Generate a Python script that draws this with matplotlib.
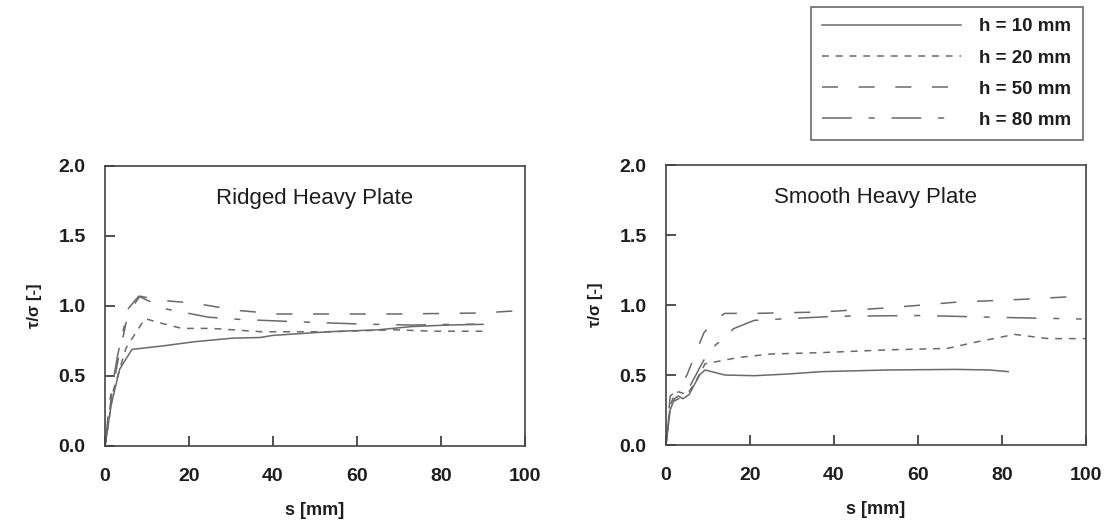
import matplotlib
matplotlib.use("Agg")
import matplotlib.pyplot as plt
from matplotlib.lines import Line2D

# Ridged heavy plate, s [mm] vs tau/sigma [-]
ridged_h10_s = [0, 1.5, 3.5, 6.4, 13.5, 21.4, 30.2, 36.9, 40, 53.2, 65, 73, 81.7, 90]
ridged_h10_y = [0, 0.3, 0.55, 0.69, 0.714, 0.745, 0.77, 0.775, 0.79, 0.816, 0.83, 0.853, 0.864, 0.869]

ridged_h20_s = [0, 2, 5, 9.5, 13.5, 18.3, 25.4, 37.3, 53, 68.8, 78, 90]
ridged_h20_y = [0, 0.4, 0.7, 0.91, 0.876, 0.84, 0.84, 0.816, 0.816, 0.83, 0.82, 0.82]

ridged_h50_s = [0, 1.5, 3, 5.5, 8.3, 13.5, 21.4, 31, 41, 55, 70, 89.8, 98, 100]
ridged_h50_y = [0, 0.35, 0.6, 0.95, 1.07, 1.04, 1.02, 0.97, 0.943, 0.943, 0.943, 0.95, 0.966, 0.968]

ridged_h80_s = [0, 1, 3, 5.5, 8, 14.3, 24.6, 31.7, 45, 61, 73, 83, 88]
ridged_h80_y = [0, 0.3, 0.65, 0.98, 1.07, 0.98, 0.92, 0.905, 0.888, 0.871, 0.864, 0.869, 0.87]

# Smooth heavy plate
smooth_h10_s = [0, 1, 2, 3, 4, 5.5, 8, 9.3, 14, 21, 29, 37, 53, 69, 77, 81.5]
smooth_h10_y = [0, 0.25, 0.33, 0.35, 0.33, 0.36, 0.5, 0.536, 0.5, 0.495, 0.507, 0.524, 0.536, 0.54, 0.536, 0.524]

smooth_h20_s = [0, 1, 2, 3, 5, 7, 9.3, 17.2, 25, 37, 53, 67, 73, 83, 91, 100]
smooth_h20_y = [0, 0.28, 0.36, 0.38, 0.36, 0.45, 0.58, 0.625, 0.65, 0.66, 0.68, 0.69, 0.73, 0.79, 0.76, 0.76]

smooth_h50_s = [0, 1, 3, 5, 7, 9, 12, 14, 21, 37, 53, 69, 84.5, 100]
smooth_h50_y = [0, 0.35, 0.4, 0.5, 0.65, 0.8, 0.9, 0.94, 0.94, 0.95, 0.98, 1.02, 1.04, 1.065]

smooth_h80_s = [0, 1, 3, 5, 8, 10, 12, 14.4, 16, 21, 27.3, 41, 61, 77, 99]
smooth_h80_y = [0, 0.3, 0.33, 0.38, 0.55, 0.66, 0.72, 0.77, 0.83, 0.89, 0.9, 0.92, 0.925, 0.913, 0.9]

LABELS = ["h = 10 mm", "h = 20 mm", "h = 50 mm", "h = 80 mm"]
STYLES = ["-", (0, (4.5, 4.5)), (0, (10.5, 13.5)), (0, (19.5, 11, 4, 11))]
LINE_COLOR = "#6a6a6a"
TEXT_COLOR = "#1e1e1e"

plt.rcParams["font.family"] = ["Liberation Sans", "DejaVu Sans"]

fig = plt.figure(figsize=(11.07, 5.22), dpi=100)
ax_left = fig.add_axes([0.0949, 0.1456, 0.3794, 0.5364])
ax_right = fig.add_axes([0.6016, 0.1475, 0.3794, 0.5364])

panels = [
    (ax_left, "Ridged Heavy Plate",
     [(ridged_h10_s, ridged_h10_y), (ridged_h20_s, ridged_h20_y),
      (ridged_h50_s, ridged_h50_y), (ridged_h80_s, ridged_h80_y)]),
    (ax_right, "Smooth Heavy Plate",
     [(smooth_h10_s, smooth_h10_y), (smooth_h20_s, smooth_h20_y),
      (smooth_h50_s, smooth_h50_y), (smooth_h80_s, smooth_h80_y)]),
]

for ax, title, series in panels:
    for (s, y), ls in zip(series, STYLES):
        ax.plot(s, y, linestyle=ls, color=LINE_COLOR, lw=1.1)
    ax.set_xlim(0, 100)
    ax.set_ylim(0, 2.0)
    ax.set_xticks([0, 20, 40, 60, 80, 100])
    ax.set_yticks([0.0, 0.5, 1.0, 1.5, 2.0])
    ax.set_yticklabels(["0.0", "0.5", "1.0", "1.5", "2.0"])
    ax.tick_params(direction="in", length=7, width=1.2, color="#333333",
                   labelsize=14, top=False, right=False)
    ax.tick_params(axis="x", pad=16)
    ax.tick_params(axis="y", pad=14)
    for lab in ax.get_xticklabels() + ax.get_yticklabels():
        lab.set_fontweight("bold")
        lab.set_color(TEXT_COLOR)
    for sp in ax.spines.values():
        sp.set_color("#444444")
        sp.set_linewidth(1.2)
    ax.text(50, 1.77, title, ha="center", va="center", fontsize=16, color=TEXT_COLOR)
    ax.set_xlabel("s [mm]", fontsize=13, fontweight="bold", color=TEXT_COLOR, labelpad=12)
    ax.set_ylabel("τ/σ [-]", fontsize=12, fontweight="bold", color=TEXT_COLOR, labelpad=12)

handles = [Line2D([], [], color=LINE_COLOR, lw=1.1, linestyle=ls) for ls in STYLES]
leg = fig.legend(handles, LABELS, loc="upper right", bbox_to_anchor=(0.978, 0.9866),
                 borderaxespad=0, handlelength=7.4, handletextpad=1.0, labelspacing=0.75,
                 fontsize=13.5, frameon=True, fancybox=False, borderpad=0.6)
leg.get_frame().set_edgecolor("#444444")
leg.get_frame().set_linewidth(1.2)
for t in leg.get_texts():
    t.set_fontweight("bold")
    t.set_color(TEXT_COLOR)

fig.savefig("out.png", dpi=100)
